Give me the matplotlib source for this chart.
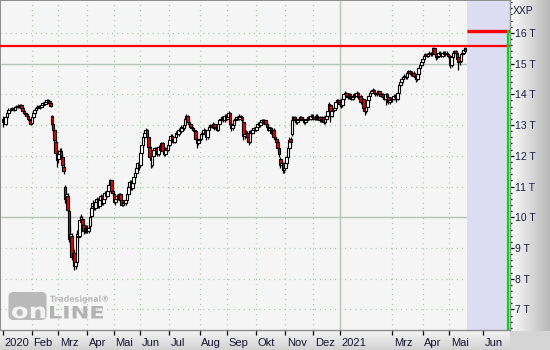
import numpy as np
import matplotlib
matplotlib.use("Agg")
import matplotlib.pyplot as plt
import matplotlib.transforms as mtransforms
from matplotlib.patches import FancyBboxPatch, PathPatch
from matplotlib.textpath import TextPath
from matplotlib.font_manager import FontProperties
from matplotlib.colors import LinearSegmentedColormap
from matplotlib.ticker import MultipleLocator

plt.rcParams["lines.scale_dashes"] = False

# ---------------- data (values in thousands, "T") ----------------
symbol = "XXP"

opens = [
    13.10, 13.20, 13.05, 13.25, 13.40, 13.50, 13.48, 13.52, 13.55, 13.50, 13.58, 13.60, 13.62, 13.58, 13.65, 13.55, 13.45, 13.40, 13.35, 13.30, 13.20, 13.15,
    13.08, 13.25, 13.40, 13.50, 13.55, 13.60, 13.62, 13.58, 13.65, 13.72, 13.70, 13.75, 13.80, 13.78, 13.72, 13.30, 13.05, 12.85, 12.45, 12.05,
    11.90, 12.05, 12.15, 11.95, 11.65, 11.00, 10.60, 10.70, 10.20, 9.25, 9.40, 8.70, 8.85, 8.40, 8.55, 9.40, 9.40, 9.85, 9.95, 9.75, 9.55, 9.65,
    9.65, 9.55, 9.70, 10.05, 10.35, 10.45, 10.30, 10.50, 10.60, 10.35, 10.55, 10.70, 10.45, 10.60, 10.80, 10.70, 10.85, 11.05, 11.20, 10.85,
    10.75, 10.50, 10.60, 10.70, 10.60, 10.75, 10.55, 10.40, 10.50, 10.45, 10.55, 10.75, 11.00, 11.15, 10.95, 11.10, 11.30, 11.45, 11.60, 11.75,
    11.70, 12.10, 12.35, 12.60, 12.75, 12.85, 12.60, 12.30, 11.95, 11.70, 12.00, 12.20, 12.25, 12.15, 12.05, 12.30, 12.20, 12.40, 12.15, 12.05, 12.25, 12.20,
    12.35, 12.50, 12.65, 12.55, 12.45, 12.60, 12.75, 12.70, 12.85, 12.80, 12.95, 12.90, 13.00, 13.20, 13.30, 13.10, 13.05, 12.95, 12.90, 12.85, 12.80, 12.55, 12.40,
    12.50, 12.55, 12.70, 12.75, 12.85, 12.70, 12.60, 12.85, 12.95, 13.00, 12.95, 13.05, 12.90, 12.95, 12.85, 13.05, 13.15, 13.20, 13.25, 13.15, 13.30,
    13.20, 13.25, 13.40, 13.05, 12.90, 13.00, 13.15, 13.20, 13.25, 13.20, 13.30, 13.25, 13.10, 12.65, 12.70, 12.75, 12.60, 12.45, 12.80, 12.75, 12.85, 12.90,
    12.85, 12.95, 13.05, 13.00, 13.10, 13.15, 13.10, 13.15, 13.05, 12.95, 12.85, 12.90, 12.75, 12.85, 12.60, 12.55, 12.45, 12.25, 11.90, 11.70, 11.75, 11.55,
    11.60, 11.75, 11.95, 12.25, 12.55, 12.70, 13.15, 13.25, 13.20, 13.10, 13.15, 13.20, 13.25, 13.20, 13.15, 13.10, 13.15, 13.20, 13.25, 13.20, 13.30,
    13.25, 13.25, 13.20, 13.30, 13.20, 13.25, 13.15, 13.20, 13.25, 13.10, 13.20, 13.30, 13.50, 13.65, 13.30, 13.45, 13.50, 13.55, 13.75, 13.80,
    13.75, 13.70, 13.65, 13.85, 14.00, 14.05, 13.95, 13.90, 14.00, 13.95, 13.85, 13.90, 14.00, 13.95, 14.05, 13.90, 13.95, 13.75, 13.85, 13.55,
    13.45, 13.60, 13.80, 13.95, 14.05, 14.10, 14.15, 14.05, 14.00, 14.05, 14.10, 14.00, 13.95, 14.00, 13.90, 13.85, 14.00, 13.90, 13.75, 13.80,
    13.85, 13.85, 13.95, 13.90, 13.85, 14.05, 14.30, 14.40, 14.50, 14.55, 14.60, 14.55, 14.70, 14.75, 14.70, 14.65, 14.70, 14.60, 14.55, 14.50, 14.65, 14.85, 14.95,
    15.05, 15.15, 15.25, 15.30, 15.25, 15.30, 15.35, 15.30, 15.35, 15.50, 15.30, 15.20, 15.25, 15.35, 15.30, 15.25, 15.35, 15.30, 15.35, 15.30,
    15.25, 15.25, 14.95, 15.20, 15.35, 15.40, 15.35, 15.20, 15.05, 15.10, 15.30, 15.35, 15.50,
]

highs = [
    13.28, 13.25, 13.30, 13.45, 13.55, 13.55, 13.56, 13.60, 13.58, 13.62, 13.65, 13.68, 13.66, 13.70, 13.68, 13.58, 13.50, 13.45, 13.40, 13.35, 13.25, 13.20,
    13.30, 13.45, 13.55, 13.60, 13.64, 13.66, 13.66, 13.70, 13.76, 13.76, 13.80, 13.84, 13.84, 13.80, 13.75, 13.32, 13.10, 12.90, 12.50, 12.10,
    12.20, 12.25, 12.25, 12.05, 11.75, 11.05, 10.90, 10.80, 10.25, 9.70, 9.50, 9.10, 8.95, 8.75, 9.60, 9.55, 10.05, 10.10, 10.05, 9.80, 9.75, 9.75,
    9.75, 9.72, 10.05, 10.35, 10.55, 10.50, 10.55, 10.65, 10.62, 10.60, 10.75, 10.72, 10.65, 10.85, 10.84, 10.90, 11.10, 11.25, 11.22, 10.95,
    10.80, 10.65, 10.75, 10.75, 10.80, 10.78, 10.60, 10.55, 10.55, 10.60, 10.80, 11.05, 11.20, 11.20, 11.15, 11.35, 11.50, 11.65, 11.80, 11.80,
    12.15, 12.40, 12.65, 12.80, 12.92, 12.88, 12.65, 12.35, 12.00, 12.05, 12.25, 12.30, 12.30, 12.20, 12.35, 12.35, 12.45, 12.45, 12.20, 12.30, 12.30, 12.40,
    12.55, 12.70, 12.70, 12.60, 12.65, 12.80, 12.80, 12.90, 12.90, 13.00, 13.00, 13.05, 13.25, 13.35, 13.32, 13.15, 13.10, 13.00, 12.95, 12.90, 12.85, 12.60, 12.55,
    12.65, 12.75, 12.80, 12.90, 12.88, 12.75, 12.90, 13.00, 13.05, 13.05, 13.10, 13.08, 13.00, 13.00, 13.10, 13.20, 13.25, 13.30, 13.28, 13.35, 13.35,
    13.30, 13.46, 13.42, 13.10, 13.05, 13.20, 13.25, 13.30, 13.30, 13.35, 13.32, 13.28, 13.12, 12.80, 12.85, 12.80, 12.62, 12.85, 12.85, 12.90, 12.95, 12.95,
    13.00, 13.10, 13.10, 13.15, 13.20, 13.20, 13.20, 13.18, 13.10, 13.00, 12.95, 12.95, 12.90, 12.90, 12.70, 12.60, 12.50, 12.30, 11.95, 11.85, 11.80, 11.70,
    11.85, 12.05, 12.35, 12.60, 12.60, 13.28, 13.30, 13.30, 13.22, 13.20, 13.25, 13.30, 13.30, 13.25, 13.20, 13.20, 13.25, 13.30, 13.30, 13.35, 13.35,
    13.35, 13.30, 13.35, 13.35, 13.30, 13.30, 13.25, 13.30, 13.30, 13.25, 13.35, 13.50, 13.74, 13.68, 13.50, 13.55, 13.62, 13.80, 13.85, 13.85,
    13.85, 13.75, 13.90, 14.05, 14.12, 14.08, 14.00, 14.05, 14.05, 14.00, 13.95, 14.05, 14.05, 14.10, 14.08, 14.00, 13.98, 13.90, 13.88, 13.62,
    13.65, 13.85, 14.00, 14.10, 14.15, 14.20, 14.18, 14.10, 14.10, 14.15, 14.12, 14.05, 14.05, 14.05, 13.95, 14.05, 14.05, 13.95, 13.85, 13.90,
    13.95, 14.00, 14.00, 13.95, 14.10, 14.35, 14.45, 14.55, 14.60, 14.65, 14.65, 14.75, 14.80, 14.80, 14.75, 14.75, 14.75, 14.65, 14.60, 14.70, 14.90, 15.00, 15.10,
    15.20, 15.30, 15.35, 15.35, 15.35, 15.40, 15.38, 15.40, 15.54, 15.52, 15.35, 15.30, 15.40, 15.40, 15.35, 15.40, 15.40, 15.40, 15.40, 15.35,
    15.30, 15.28, 15.25, 15.40, 15.45, 15.45, 15.38, 15.25, 15.15, 15.35, 15.40, 15.50, 15.55,
]

lows = [
    12.95, 13.05, 13.00, 13.20, 13.35, 13.44, 13.45, 13.48, 13.46, 13.48, 13.55, 13.56, 13.54, 13.55, 13.50, 13.42, 13.35, 13.30, 13.25, 13.15, 13.08, 13.00,
    13.02, 13.20, 13.35, 13.46, 13.50, 13.55, 13.52, 13.55, 13.62, 13.65, 13.66, 13.70, 13.72, 13.66, 13.58, 12.95, 12.75, 12.40, 12.00, 11.65,
    11.75, 11.95, 11.90, 11.65, 11.40, 10.45, 10.40, 10.15, 9.20, 9.10, 8.60, 8.55, 8.28, 8.30, 8.50, 9.20, 9.35, 9.75, 9.60, 9.45, 9.50, 9.50,
    9.50, 9.50, 9.65, 10.00, 10.30, 10.25, 10.25, 10.45, 10.30, 10.30, 10.50, 10.40, 10.40, 10.55, 10.65, 10.65, 10.80, 11.00, 10.80, 10.70,
    10.45, 10.40, 10.55, 10.55, 10.55, 10.50, 10.35, 10.35, 10.40, 10.40, 10.50, 10.70, 10.95, 10.90, 10.90, 11.05, 11.25, 11.40, 11.55, 11.55,
    11.65, 12.05, 12.30, 12.55, 12.70, 12.55, 12.25, 11.90, 11.60, 11.65, 11.95, 12.15, 12.10, 12.00, 12.00, 12.15, 12.15, 12.10, 12.00, 12.00, 12.15, 12.15,
    12.30, 12.45, 12.50, 12.40, 12.40, 12.55, 12.65, 12.65, 12.75, 12.75, 12.85, 12.85, 12.95, 13.15, 13.05, 13.00, 12.90, 12.85, 12.80, 12.75, 12.50, 12.25, 12.35,
    12.45, 12.50, 12.65, 12.70, 12.65, 12.50, 12.55, 12.80, 12.90, 12.90, 12.90, 12.85, 12.85, 12.80, 12.80, 13.00, 13.10, 13.15, 13.10, 13.10, 13.15,
    13.15, 13.20, 13.00, 12.80, 12.85, 12.95, 13.10, 13.15, 13.15, 13.15, 13.20, 13.10, 12.50, 12.55, 12.65, 12.55, 12.35, 12.40, 12.70, 12.70, 12.80, 12.80,
    12.80, 12.90, 12.95, 12.95, 13.05, 13.05, 13.05, 13.00, 12.90, 12.80, 12.80, 12.70, 12.70, 12.55, 12.50, 12.40, 12.15, 11.95, 11.60, 11.60, 11.45, 11.45,
    11.55, 11.70, 11.90, 12.20, 12.35, 12.65, 13.05, 13.15, 13.05, 13.05, 13.10, 13.15, 13.15, 13.10, 13.05, 13.05, 13.10, 13.15, 13.15, 13.15, 13.20,
    13.15, 13.15, 13.15, 13.15, 13.15, 13.10, 13.10, 13.15, 13.05, 13.05, 13.15, 13.25, 13.45, 13.10, 13.25, 13.40, 13.45, 13.50, 13.70, 13.70,
    13.60, 13.55, 13.60, 13.80, 13.95, 13.90, 13.85, 13.85, 13.90, 13.80, 13.80, 13.85, 13.90, 13.90, 13.85, 13.85, 13.70, 13.70, 13.50, 13.33,
    13.40, 13.55, 13.75, 13.90, 14.00, 14.05, 14.00, 13.95, 13.95, 14.00, 13.95, 13.90, 13.90, 13.85, 13.80, 13.65, 13.85, 13.70, 13.70, 13.75,
    13.75, 13.80, 13.85, 13.75, 13.80, 14.00, 14.25, 14.35, 14.45, 14.50, 14.50, 14.50, 14.65, 14.65, 14.60, 14.60, 14.55, 14.50, 14.40, 14.45, 14.60, 14.80, 14.90,
    15.00, 15.10, 15.20, 15.20, 15.20, 15.25, 15.25, 15.25, 15.30, 15.25, 15.12, 15.15, 15.20, 15.25, 15.20, 15.20, 15.25, 15.25, 15.25, 15.20,
    15.15, 14.86, 14.90, 15.15, 15.30, 15.30, 15.10, 14.80, 14.95, 15.05, 15.25, 15.30, 15.35,
]

closes = [
    13.20, 13.10, 13.25, 13.40, 13.50, 13.48, 13.52, 13.55, 13.50, 13.58, 13.60, 13.62, 13.58, 13.65, 13.55, 13.45, 13.40, 13.35, 13.30, 13.20, 13.15, 13.05,
    13.25, 13.40, 13.50, 13.55, 13.60, 13.62, 13.58, 13.65, 13.72, 13.70, 13.75, 13.80, 13.78, 13.72, 13.62, 13.05, 12.85, 12.50, 12.10, 11.85,
    12.05, 12.15, 12.00, 11.70, 11.50, 10.60, 10.75, 10.25, 9.30, 9.45, 8.70, 8.85, 8.40, 8.55, 9.45, 9.35, 9.90, 10.00, 9.75, 9.55, 9.65, 9.60,
    9.60, 9.65, 10.00, 10.30, 10.45, 10.30, 10.50, 10.60, 10.35, 10.55, 10.70, 10.45, 10.60, 10.80, 10.70, 10.85, 11.05, 11.20, 10.85, 10.80,
    10.50, 10.60, 10.70, 10.60, 10.75, 10.55, 10.40, 10.50, 10.45, 10.55, 10.75, 11.00, 11.15, 10.95, 11.10, 11.30, 11.45, 11.60, 11.75, 11.65,
    12.10, 12.35, 12.60, 12.75, 12.85, 12.60, 12.30, 11.95, 11.85, 12.00, 12.20, 12.25, 12.15, 12.05, 12.30, 12.20, 12.40, 12.15, 12.05, 12.25, 12.20, 12.35,
    12.50, 12.65, 12.55, 12.45, 12.60, 12.75, 12.70, 12.85, 12.80, 12.95, 12.90, 13.00, 13.20, 13.30, 13.10, 13.05, 12.95, 12.90, 12.85, 12.80, 12.55, 12.40, 12.50,
    12.55, 12.70, 12.75, 12.85, 12.70, 12.60, 12.85, 12.95, 13.00, 12.95, 13.05, 12.90, 12.95, 12.85, 13.05, 13.15, 13.20, 13.25, 13.15, 13.30, 13.20,
    13.25, 13.40, 13.05, 12.90, 13.00, 13.15, 13.20, 13.25, 13.20, 13.30, 13.25, 13.15, 12.65, 12.70, 12.75, 12.60, 12.45, 12.80, 12.75, 12.85, 12.90, 12.85,
    12.95, 13.05, 13.00, 13.10, 13.15, 13.10, 13.15, 13.05, 12.95, 12.85, 12.90, 12.75, 12.85, 12.60, 12.55, 12.45, 12.25, 12.05, 11.70, 11.75, 11.55, 11.60,
    11.75, 11.95, 12.25, 12.50, 12.45, 13.15, 13.25, 13.20, 13.10, 13.15, 13.20, 13.25, 13.20, 13.15, 13.10, 13.15, 13.20, 13.25, 13.20, 13.30, 13.25,
    13.25, 13.20, 13.30, 13.20, 13.25, 13.15, 13.20, 13.25, 13.10, 13.20, 13.30, 13.45, 13.70, 13.30, 13.45, 13.50, 13.55, 13.75, 13.80, 13.75,
    13.70, 13.65, 13.85, 14.00, 14.05, 13.95, 13.90, 14.00, 13.95, 13.85, 13.90, 14.00, 13.95, 14.05, 13.90, 13.95, 13.75, 13.85, 13.55, 13.45,
    13.60, 13.80, 13.95, 14.05, 14.10, 14.15, 14.05, 14.00, 14.05, 14.10, 14.00, 13.95, 14.00, 13.90, 13.85, 14.00, 13.90, 13.75, 13.80, 13.85,
    13.85, 13.95, 13.90, 13.85, 14.05, 14.30, 14.40, 14.50, 14.55, 14.60, 14.55, 14.70, 14.75, 14.70, 14.65, 14.70, 14.60, 14.55, 14.50, 14.65, 14.85, 14.95, 15.05,
    15.15, 15.25, 15.30, 15.25, 15.30, 15.35, 15.30, 15.35, 15.50, 15.30, 15.20, 15.25, 15.35, 15.30, 15.25, 15.35, 15.30, 15.35, 15.30, 15.25,
    15.20, 14.95, 15.20, 15.35, 15.40, 15.35, 15.15, 15.05, 15.10, 15.30, 15.35, 15.45, 15.40,
]

# month axis: trading-day slots per month (Jan 2020 ... May 2021) and labels
month_lengths = [22, 20, 22, 20, 20, 22, 23, 21, 22, 22, 21, 20, 20, 20, 23, 20, 26]
month_labels = ["2020", "Feb", "Mrz", "Apr", "Mai", "Jun", "Jul", "Aug", "Sep", "Okt",
                "Nov", "Dez", "2021", "", "Mrz", "Apr", "Mai", "Jun"]

y_ticks = [7, 8, 9, 10, 11, 12, 13, 14, 15, 16]
grid_solid_levels = [10, 15]
resistance_level = 15.57
target_level = 16.05

# ---------------- figure ----------------
W, H = 550, 350
fig = plt.figure(figsize=(W / 100, H / 100), dpi=100, facecolor="#d5d5d5")


def px_rect(x0, y0, x1, y1):
    return [x0 / W, 1 - y1 / H, (x1 - x0) / W, (y1 - y0) / H]


# right price-axis panel (horizontal gradient)
axr = fig.add_axes(px_rect(510, 0, 550, 331), zorder=0)
axr.imshow(np.linspace(0, 1, 64).reshape(1, -1), aspect="auto",
           cmap=LinearSegmentedColormap.from_list("r", ["#fbfbfb", "#b9b9b9"]),
           extent=[0, 1, 0, 1])
axr.axis("off")

# bottom time-axis strip (vertical gradient)
axb = fig.add_axes(px_rect(0, 331, 510, 350), zorder=0)
axb.imshow(np.linspace(0, 1, 32).reshape(-1, 1), aspect="auto",
           cmap=LinearSegmentedColormap.from_list("b", ["#f2f2f2", "#d2d2d2"]),
           extent=[0, 1, 0, 1], origin="upper")
axb.axis("off")

# main chart
ax = fig.add_axes(px_rect(0, 0, 510, 330), zorder=2)
ax.set_facecolor("#f5f5f5")

n = min(len(opens), len(highs), len(lows), len(closes))
o = np.array(opens[:n]); h = np.array(highs[:n]); l = np.array(lows[:n]); c = np.array(closes[:n])
x = np.arange(n)

XL, XR = -2.27, 384.1
YB, YT = 6.33, 17.07
ax.set_xlim(XL, XR)
ax.set_ylim(YB, YT)
ax.set_autoscale_on(False)

# grid
dotted = (0, (0.75, 2.9))
for v in y_ticks:
    if v in grid_solid_levels:
        ax.axhline(v, color="#b3c6b3", lw=1.0, zorder=0.5)
    else:
        ax.axhline(v, color="#a6c6a6", lw=0.9, ls=dotted, zorder=0.5)

starts = np.concatenate([[0], np.cumsum(month_lengths)])
tick_pos, tick_lab = [], []
for pos, lab in zip(starts, month_labels):
    if lab == "":
        continue
    tick_pos.append(pos)
    tick_lab.append(lab)
    if pos > 0:
        if lab.isdigit():
            ax.axvline(pos, color="#b3c6b3", lw=1.0, zorder=0.5)
        else:
            ax.axvline(pos, color="#a6c6a6", lw=0.9, ls=dotted, zorder=0.5)

# future (projection) area
ax.axvspan(n + 0.5, XR, color="#dcdcf3", lw=0, zorder=0.8)

# candles
up = c >= o
ax.vlines(x, l, h, color="black", lw=0.9, zorder=3)
ax.bar(x, c - o, bottom=o, width=2.0,
       color=np.where(up, "white", "#ee0000"), edgecolor="black", linewidth=0.8, zorder=3.5)

# lines
ax.axhline(resistance_level, color="#ff0000", lw=1.6, zorder=5)
ax.plot([n + 0.5, XR], [target_level, target_level], color="#ff0000", lw=2.4,
        solid_capstyle="butt", zorder=5)
ax.axvline(XR - 1.3, ymin=0, ymax=(target_level - YB) / (YT - YB),
           color="#00dd00", lw=1.6, zorder=5)

# spines
for side, sp in ax.spines.items():
    sp.set_color("#8c8c8c")
    sp.set_linewidth(1.4 if side in ("left", "top") else 1.0)

# y axis on right
ax.yaxis.tick_right()
ax.set_yticks(y_ticks)
ax.set_yticklabels([f"{v} T" for v in y_ticks], family="Liberation Sans")
ax.yaxis.set_minor_locator(MultipleLocator(0.2))
ax.tick_params(axis="y", which="major", length=3.2, width=0.9, color="black",
               pad=0.6, labelsize=7.5, labelcolor="#1c1c44", right=True, left=False)
ax.tick_params(axis="y", which="minor", length=1.6, width=0.9, color="black", right=True, left=False)

# x axis ticks + labels (left aligned after tick)
ax.set_xticks(tick_pos)
ax.set_xticklabels([])
ax.tick_params(axis="x", which="major", length=3.5, width=0.9, color="black", direction="out")
xfam = ["Liberation Sans Narrow", "Liberation Sans"]
off = mtransforms.ScaledTranslation(1.5 / 100, -16.5 / 100, fig.dpi_scale_trans)
xt = mtransforms.blended_transform_factory(ax.transData, ax.transAxes) + off
for pos, lab in zip(tick_pos, tick_lab):
    ax.text(pos, 0, lab, transform=xt, ha="left", va="baseline", fontsize=8,
            family=xfam, color="#141430", clip_on=False)

# symbol
fig.text(513 / W, 1 - 14.5 / H, symbol, ha="left", va="baseline", fontsize=7.5,
         family="Liberation Sans", color="#1c1c44")

# watermark logo
axo = fig.add_axes([0, 0, 1, 1], zorder=3)
axo.set_xlim(0, W)
axo.set_ylim(H, 0)
axo.axis("off")
axo.patch.set_alpha(0)


def text_in_box(s, box, color, weight="bold", family="DejaVu Sans"):
    tp = TextPath((0, 0), s, size=1, prop=FontProperties(family=family, weight=weight))
    ext = tp.get_extents()
    x0, y0, x1, y1 = box
    tr = (mtransforms.Affine2D().translate(-ext.x0, -ext.y0)
          .scale((x1 - x0) / ext.width, -(y1 - y0) / ext.height).translate(x0, y1))
    axo.add_patch(PathPatch(tr.transform_path(tp), facecolor=color, edgecolor="none"))


axo.add_patch(FancyBboxPatch((8.5, 292), 38, 28, boxstyle="round,pad=0,rounding_size=5",
                             facecolor="#b9b9b9", edgecolor="none"))
text_in_box("on", (12, 306.5, 45, 318.5), "#f3f3f3")
text_in_box("LINE", (50, 306, 103, 318.5), "#b2b2b2")
text_in_box("Tradesignal\u00ae", (50, 295.5, 108, 303.5), "#b8b8b8")

fig.savefig("out.png", dpi=100, facecolor=fig.get_facecolor())
